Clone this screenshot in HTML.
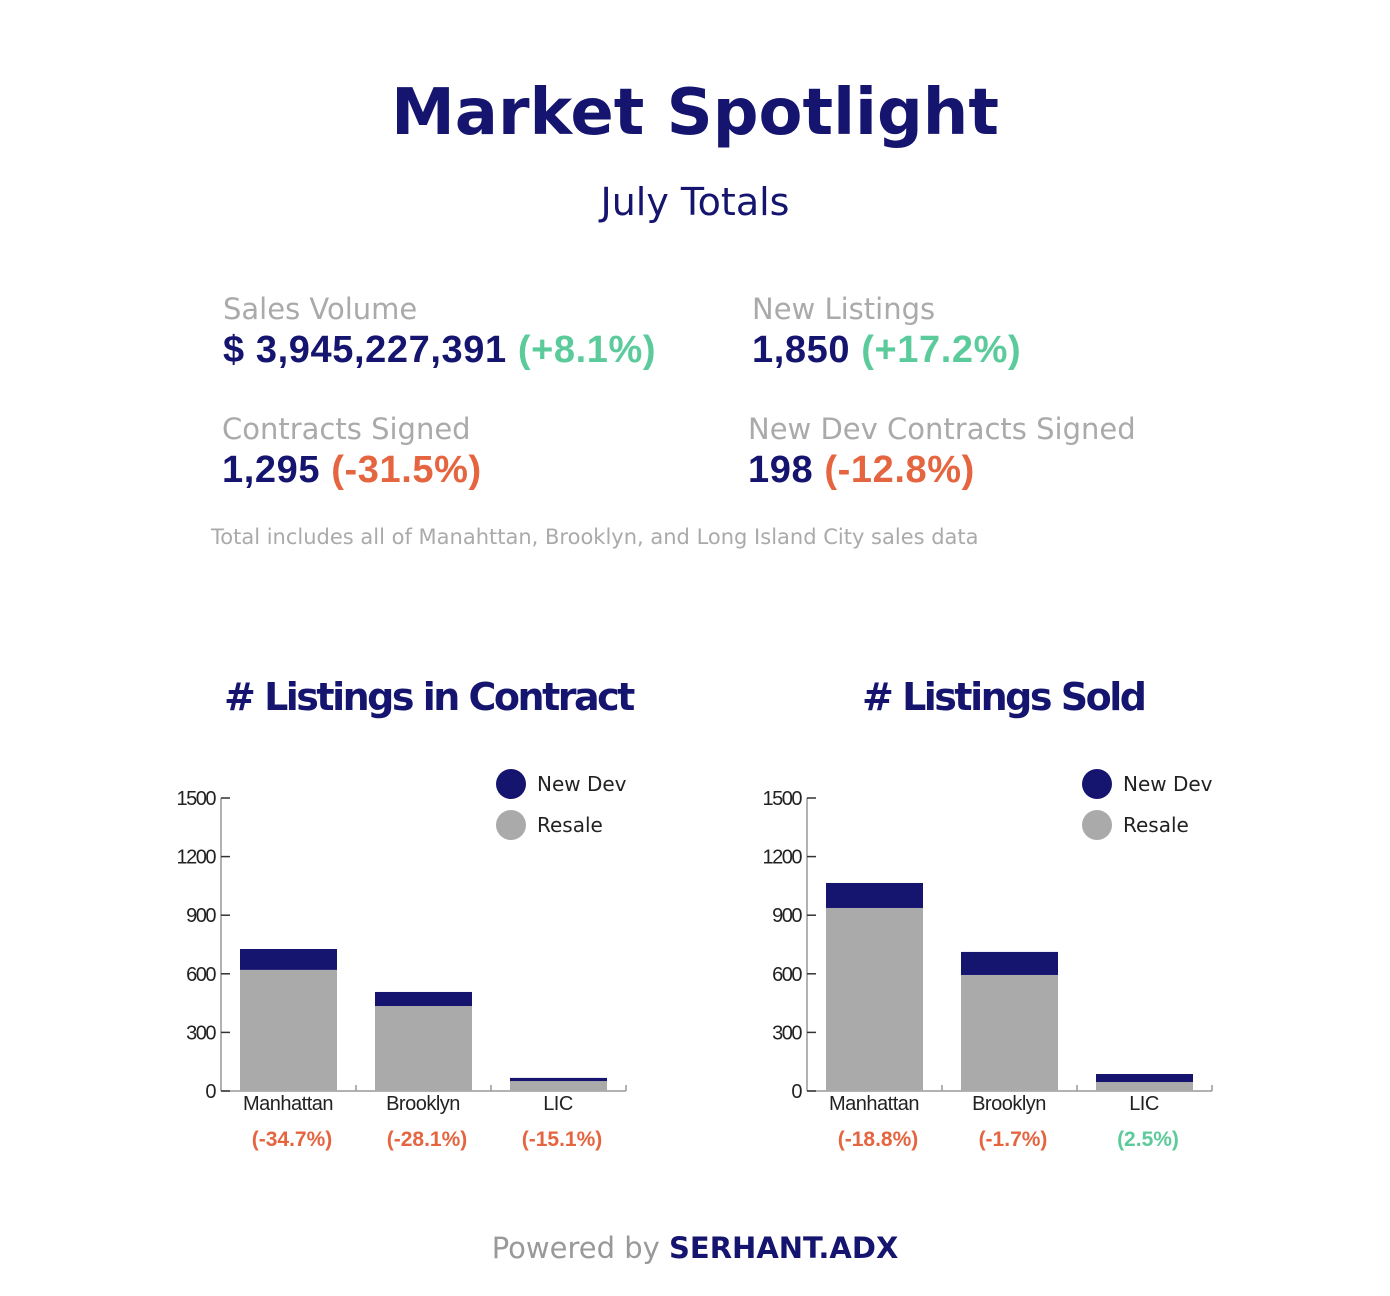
<!DOCTYPE html>
<html><head><meta charset="utf-8"><style>
body{margin:0;width:1390px;height:1296px;background:#fff;font-family:"DejaVu Sans","Liberation Sans",sans-serif;position:relative;overflow:hidden}
.a{position:absolute;white-space:nowrap}
.lbl{color:#aaa;font-size:29px}
.val{color:#151570;font-size:38px;font-weight:bold;font-family:"Liberation Sans",sans-serif;letter-spacing:0.6px}
.pos{color:#5ccb9b}.neg{color:#e4653f}
.ct{color:#151570;font-size:38px;font-weight:bold;letter-spacing:-2.5px}
</style></head><body>
<div class="a" style="left:0;width:1390px;text-align:center;top:76px;font-size:64px;font-weight:bold;color:#151570">Market Spotlight</div>
<div class="a" style="left:0;width:1390px;text-align:center;top:180px;font-size:38px;color:#151570">July Totals</div>

<div class="a lbl" style="left:223px;top:292px">Sales Volume</div>
<div class="a val" style="left:223px;top:329px">$ 3,945,227,391 <span class="pos">(+8.1%)</span></div>
<div class="a lbl" style="left:752px;top:292px">New Listings</div>
<div class="a val" style="left:752px;top:329px">1,850 <span class="pos">(+17.2%)</span></div>
<div class="a lbl" style="left:222px;top:412px">Contracts Signed</div>
<div class="a val" style="left:222px;top:449px">1,295 <span class="neg">(-31.5%)</span></div>
<div class="a lbl" style="left:748px;top:412px">New Dev Contracts Signed</div>
<div class="a val" style="left:748px;top:449px">198 <span class="neg">(-12.8%)</span></div>
<div class="a" style="left:211px;top:525px;font-size:21px;color:#aaa">Total includes all of Manahttan, Brooklyn, and Long Island City sales data</div>

<div class="a ct" style="left:224px;top:675px">#&nbsp;Listings in Contract</div>
<div class="a ct" style="left:862px;top:675px">#&nbsp;Listings Sold</div>

<svg class="a" style="left:0;top:0" width="1390" height="1296" id="charts"></svg>

<div class="a" style="left:0;width:1390px;text-align:center;top:1231px;font-size:29px;color:#999">Powered by <b style="color:#151570">SERHANT.ADX</b></div>

<script>
const categories=["Manhattan","Brooklyn","LIC"];
const ticks=[0,300,600,900,1200,1500];
const contractResale=[620,435,51];
const contractNewDev=[107,72,16];
const contractChange=["(-34.7%)","(-28.1%)","(-15.1%)"];
const soldResale=[937,594,46];
const soldNewDev=[128,118,41];
const soldChange=["(-18.8%)","(-1.7%)","(2.5%)"];
const soldChangeSign=[-1,-1,1];
const contractChangeSign=[-1,-1,-1];

const svg=document.getElementById('charts');
const NS='http://www.w3.org/2000/svg';
function mk(t,a,txt){const e=document.createElementNS(NS,t);for(const k in a)e.setAttribute(k,a[k]);if(txt!==undefined)e.textContent=txt;svg.appendChild(e);return e;}
function chart(ox,resale,newdev,changes,signs,prefix){
  const y0=1091,ppu=293/1500;
  const y=v=>y0-v*ppu;
  const x=i=>ox+19+i*135;
  let e=mk('line',{x1:ox,y1:y(1500),x2:ox,y2:y0,stroke:'#999','stroke-width':1.5});
  
  e=mk('line',{x1:ox,y1:y0,x2:ox+405,y2:y0,stroke:'#999','stroke-width':1.5});
  
  ticks.forEach(t=>{
    mk('line',{x1:ox,y1:y(t),x2:ox+9,y2:y(t),stroke:'#333','stroke-width':1.5});
    const tl=mk('text',{x:ox-6,y:y(t)+7,'text-anchor':'end','font-size':20,fill:'#222','letter-spacing':'-1.5','font-family':'Liberation Sans, sans-serif'},t);
    
  });
  [1,2,3].forEach(i=>mk('line',{x1:ox+i*135,y1:y0,x2:ox+i*135,y2:y0-6,stroke:'#999','stroke-width':1.5}));
  categories.forEach((c,i)=>{
    let r=mk('rect',{x:x(i),y:y(resale[i]),width:97,height:resale[i]*ppu,fill:'#aaaaaa'});
    
    r=mk('rect',{x:x(i),y:y(resale[i]+newdev[i]),width:97,height:newdev[i]*ppu,fill:'#151570'});
    
    let t=mk('text',{x:x(i)+48,y:1110,'text-anchor':'middle','font-size':20,fill:'#222','letter-spacing':'-0.5','font-family':'Liberation Sans, sans-serif'},c);
    
    t=mk('text',{x:x(i)+52,y:1146,'text-anchor':'middle','font-size':21,'font-weight':'bold',fill:signs[i]>0?'#5ccb9b':'#e4653f','font-family':'Liberation Sans, sans-serif'},changes[i]);
    
  });
  const lx=ox+290;
  let c=mk('circle',{cx:lx,cy:784,r:15,fill:'#151570'});
  
  c=mk('circle',{cx:lx,cy:825,r:15,fill:'#aaaaaa'});
  
  let t=mk('text',{x:lx+26,y:791,'font-size':20,fill:'#222','font-family':'DejaVu Sans, sans-serif'},'New Dev');
  
  t=mk('text',{x:lx+26,y:832,'font-size':20,fill:'#222','font-family':'DejaVu Sans, sans-serif'},'Resale');
  
}
chart(221,contractResale,contractNewDev,contractChange,contractChangeSign,'contract');
chart(807,soldResale,soldNewDev,soldChange,soldChangeSign,'sold');
</script>
</body></html>
